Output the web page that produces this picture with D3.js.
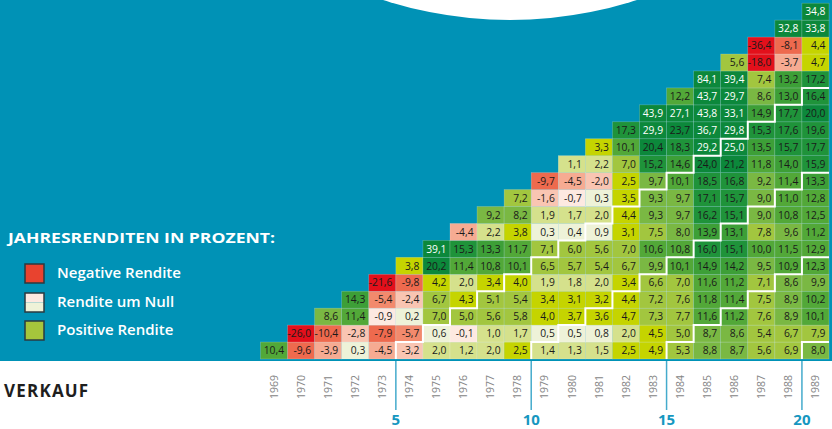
<!DOCTYPE html>
<html><head><meta charset="utf-8">
<script src="https://cdn.jsdelivr.net/npm/d3@7"></script>
<style>
body{margin:0;background:#fff;}
svg{display:block;font-family:"Open Sans",sans-serif;}
</style>
</head><body>
<svg id="c" width="832" height="429"></svg>
<script>
// ---- data ----
const years = [1969,1970,1971,1972,1973,1974,1975,1976,1977,1978,1979,1980,1981,1982,1983,1984,1985,1986,1987,1988,1989];
// rowValues[r] : values of row r (from the bottom), for sale years years[r] .. 1989
const rowValues = [
  [10.4,-9.6,-3.9,0.3,-4.5,-3.2,2.0,1.2,2.0,2.5,1.4,1.3,1.5,2.5,4.9,5.3,8.8,8.7,5.6,6.9,8.0],
  [-26.0,-10.4,-2.8,-7.9,-5.7,0.6,-0.1,1.0,1.7,0.5,0.5,0.8,2.0,4.5,5.0,8.7,8.6,5.4,6.7,7.9],
  [8.6,11.4,-0.9,0.2,7.0,5.0,5.6,5.8,4.0,3.7,3.6,4.7,7.3,7.7,11.6,11.2,7.6,8.9,10.1],
  [14.3,-5.4,-2.4,6.7,4.3,5.1,5.4,3.4,3.1,3.2,4.4,7.2,7.6,11.8,11.4,7.5,8.9,10.2],
  [-21.6,-9.8,4.2,2.0,3.4,4.0,1.9,1.8,2.0,3.4,6.6,7.0,11.6,11.2,7.1,8.6,9.9],
  [3.8,20.2,11.4,10.8,10.1,6.5,5.7,5.4,6.7,9.9,10.1,14.9,14.2,9.5,10.9,12.3],
  [39.1,15.3,13.3,11.7,7.1,6.0,5.6,7.0,10.6,10.8,16.0,15.1,10.0,11.5,12.9],
  [-4.4,2.2,3.8,0.3,0.4,0.9,3.1,7.5,8.0,13.9,13.1,7.8,9.6,11.2],
  [9.2,8.2,1.9,1.7,2.0,4.4,9.3,9.7,16.2,15.1,9.0,10.8,12.5],
  [7.2,-1.6,-0.7,0.3,3.5,9.3,9.7,17.1,15.7,9.0,11.0,12.8],
  [-9.7,-4.5,-2.0,2.5,9.7,10.1,18.5,16.8,9.2,11.4,13.3],
  [1.1,2.2,7.0,15.2,14.6,24.0,21.2,11.8,14.0,15.9],
  [3.3,10.1,20.4,18.3,29.2,25.0,13.5,15.7,17.7],
  [17.3,29.9,23.7,36.7,29.8,15.3,17.6,19.6],
  [43.9,27.1,43.8,33.1,14.9,17.7,20.0],
  [12.2,43.7,29.7,8.6,13.0,16.4],
  [84.1,39.4,7.4,13.2,17.2],
  [5.6,-18.0,-3.7,4.7],
  [-36.4,-8.1,4.4],
  [32.8,33.8],
  [34.8]
];
const milestones = [5,10,15,20];
const legendTitle = "JAHRESRENDITEN IN PROZENT:";
const legendLabels = ["Negative Rendite","Rendite um Null","Positive Rendite"];
const axisTitle = "VERKAUF";

// ---- styles ----
const teal = "#0092b6";
const colorBreaks = [-15,-7,-5,-3.5,-1.5,0,1,2.5,5,8,10,13,15,20];
const colorRange = ["#e3101b","#ee6a4e","#f28a6d","#f6ab92","#f9c5b2","#fde9e1","#eef2d8","#d5e18c","#c5d400","#a2c63f","#7ab843","#52a838","#3d9f37","#1f933a","#0c883b"];
const color = d3.scaleThreshold().domain(colorBreaks).range(colorRange);
const fmt = d3.formatLocale({decimal:",",thousands:".",grouping:[3],currency:["","€"],minus:"-"}).format(".1f");

const svg = d3.select("#c");
const x = d3.scaleBand().domain(years).range([260.5, 829]);
const rowsIdx = d3.range(rowValues.length);
const y = d3.scaleBand().domain(rowsIdx.slice().reverse()).range([3.2, 359]);
const cw = x.bandwidth(), ch = y.bandwidth();

// background
svg.append("rect").attr("x",0).attr("y",0).attr("width",832).attr("height",361).attr("fill",teal);
svg.append("circle").attr("cx",510).attr("cy",-393).attr("r",413).attr("fill","#fff");

// cells
const cells = [];
rowValues.forEach((vals,r)=>vals.forEach((v,i)=>cells.push({r, year: years[r+i], v})));
const g = svg.append("g");
g.selectAll("rect.cell").data(cells).join("rect").attr("class","cell")
  .attr("x",d=>x(d.year)).attr("y",d=>y(d.r)).attr("width",cw).attr("height",ch)
  .attr("fill",d=>color(d.v)).attr("stroke","rgba(255,255,255,0.3)").attr("stroke-width",0.6);
g.selectAll("text.val").data(cells).join("text").attr("class","val")
  .attr("x",d=>x(d.year)+cw-3.5).attr("y",d=>y(d.r)+ch/2).attr("dy","0.36em")
  .attr("text-anchor","end").attr("font-size","10.3px")
  .attr("fill",d=>d.v>=25?"#fff":"#1a1a1a").text(d=>fmt(d.v));

// stepped milestone lines
const xRight = x.range()[1];
const colLeft = i => i < years.length ? x(years[i]) : xRight;
milestones.forEach(h=>{
  const pts = [[colLeft(h), y(0)+ch]];
  for(let r=0; r+h<years.length; r++){
    pts.push([colLeft(r+h), y(r)]);
    pts.push([colLeft(r+h+1), y(r)]);
  }
  svg.append("path").attr("d",d3.line()(pts)).attr("fill","none")
    .attr("stroke","#fff").attr("stroke-width",2).attr("stroke-linejoin","miter");
  svg.append("line").attr("x1",colLeft(h)).attr("x2",colLeft(h)).attr("y1",361).attr("y2",410)
    .attr("stroke","#45abcc").attr("stroke-width",1.5);
  svg.append("text").attr("x",colLeft(h)).attr("y",425).attr("text-anchor","middle")
    .attr("font-size","15px").attr("font-weight","700").attr("fill","#1697c0").text(h);
});

// year labels
svg.selectAll("text.year").data(years).join("text").attr("class","year")
  .attr("transform",d=>`translate(${x(d)+cw/2},375) rotate(-90)`)
  .attr("text-anchor","end").attr("dy","0.35em").attr("font-size","10.5px").attr("fill","#858585")
  .text(d=>d);

svg.append("text").attr("x",4).attr("y",397).attr("font-size","17px").attr("font-weight","700")
  .attr("fill","#1e1e1e").attr("letter-spacing","1.2px").text(axisTitle);

// legend
svg.append("text").attr("x",8).attr("y",243).attr("font-size","13.5px").attr("font-weight","700")
  .attr("fill","#fff").attr("textLength",267).attr("lengthAdjust","spacingAndGlyphs").text(legendTitle);
const ly = [264,293,321];
const lg = svg.append("g");
legendLabels.forEach((lab,i)=>{
  const yy = ly[i];
  if(i===0){
    lg.append("rect").attr("x",25).attr("y",yy).attr("width",19).attr("height",19).attr("fill","#e8432f");
  } else if(i===1){
    lg.append("rect").attr("x",25).attr("y",yy).attr("width",19).attr("height",9.5).attr("fill",color(-0.5));
    lg.append("rect").attr("x",25).attr("y",yy+9.5).attr("width",19).attr("height",9.5).attr("fill",color(0.5));
  } else {
    lg.append("rect").attr("x",25).attr("y",yy).attr("width",19).attr("height",19).attr("fill","#a5c53c");
  }
  lg.append("rect").attr("x",25).attr("y",yy).attr("width",19).attr("height",19)
    .attr("fill","none").attr("stroke","#2a3a40").attr("stroke-width",1.5);
  lg.append("text").attr("x",57).attr("y",yy+14).attr("font-size","15px").attr("font-weight","600")
    .attr("fill","#fff").text(lab);
});
</script>
</body></html>
